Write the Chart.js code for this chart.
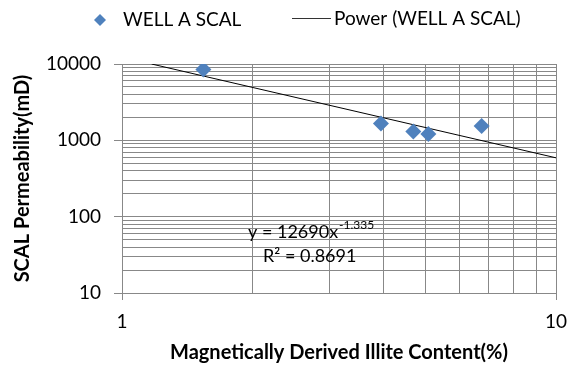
<!DOCTYPE html>
<html><head><meta charset="utf-8">
<script src="https://cdn.jsdelivr.net/npm/chart.js@4.4.1/dist/chart.umd.min.js"></script>
<style>html,body{margin:0;padding:0;background:#fff}#wrap{width:574px;height:371px}</style>
</head><body><div id="wrap"><canvas id="c" width="574" height="371"></canvas></div>
<script>
// ---- data ----
const seriesName = 'WELL A SCAL';
const trendName = 'Power (WELL A SCAL)';
const illiteContent = [1.54, 3.95, 4.69, 5.08, 6.74];
const permeability = [8500, 1660, 1310, 1210, 1540];
const trendX = [1.17, 10];
const trendY = [10000, 590];
const xTickValues = [1, 2, 3, 4, 5, 6, 7, 8, 9, 10];
const xTickLabels = [1, 10];
const yTickValues = [10, 20, 30, 40, 50, 60, 70, 80, 90,
  100, 200, 300, 400, 500, 600, 700, 800, 900,
  1000, 2000, 3000, 4000, 5000, 6000, 7000, 8000, 9000, 10000];
const yTickLabels = [10, 100, 1000, 10000];
const xTitle = 'Magnetically Derived Illite Content(%)';
const yTitle = 'SCAL Permeability(mD)';
const eqMain = 'y = 12690x';
const eqExp = '-1.335';
const eqR2 = 'R\u00B2 = 0.8691';

const FONT = 'Lato, "Open Sans", sans-serif';
const GRID = '#888888';
const BLUE = '#4F81BD';

const overlay = {
  id: 'overlay',
  afterDraw(chart) {
    const ctx = chart.ctx;
    ctx.save();
    // legend
    ctx.fillStyle = BLUE;
    ctx.beginPath();
    const dx = 100, dy = 20, r = 6;
    ctx.moveTo(dx, dy - r); ctx.lineTo(dx + r, dy); ctx.lineTo(dx, dy + r); ctx.lineTo(dx - r, dy); ctx.closePath();
    ctx.fill();
    ctx.fillStyle = '#000';
    ctx.font = '19px ' + FONT;
    ctx.textBaseline = 'middle';
    ctx.textAlign = 'left';
    ctx.fillText(seriesName, 123, 20);
    ctx.strokeStyle = '#333';
    ctx.lineWidth = 1;
    ctx.beginPath(); ctx.moveTo(292, 18.5); ctx.lineTo(331, 18.5); ctx.stroke();
    ctx.fillText(trendName, 334, 19);
    // trendline equation
    ctx.font = '18px ' + FONT;
    ctx.fillText(eqMain, 248, 232);
    const w = ctx.measureText(eqMain).width;
    ctx.font = '12px ' + FONT;
    ctx.fillText(eqExp, 248 + w + 1, 225);
    ctx.font = '18px ' + FONT;
    ctx.fillText(eqR2, 263, 256);
    ctx.restore();
  }
};

const majorTickColor = (list) => (c) => (c.tick && list.includes(c.tick.value)) ? GRID : 'rgba(0,0,0,0)';

new Chart(document.getElementById('c'), {
  data: {
    datasets: [
      {
        type: 'scatter',
        label: seriesName,
        data: illiteContent.map((x, i) => ({ x: x, y: permeability[i] })),
        pointStyle: 'rectRot',
        pointRadius: 8,
        backgroundColor: BLUE,
        borderColor: BLUE,
        borderWidth: 0,
        order: 1
      },
      {
        type: 'line',
        label: trendName,
        data: trendX.map((x, i) => ({ x: x, y: trendY[i] })),
        borderColor: '#000',
        borderWidth: 1,
        pointRadius: 0,
        fill: false,
        order: 2
      }
    ]
  },
  options: {
    responsive: false,
    animation: false,
    devicePixelRatio: 1,
    layout: { padding: { top: 64, right: 18, bottom: 0, left: 0 } },
    plugins: { legend: { display: false }, tooltip: { enabled: false } },
    scales: {
      x: {
        type: 'logarithmic',
        min: 1, max: 10,
        afterBuildTicks: (s) => { s.ticks = xTickValues.map(v => ({ value: v, major: xTickLabels.includes(v) })); },
        afterFit: (s) => { s.height = 78; s.paddingLeft = 0; s.paddingRight = 0; },
        ticks: {
          autoSkip: false, maxRotation: 0,
          callback: (v) => xTickLabels.includes(v) ? String(v) : '',
          font: { family: FONT, size: 19 }, color: '#000', padding: 10
        },
        grid: { color: GRID, lineWidth: 1, tickLength: 7, tickColor: majorTickColor(xTickLabels) },
        border: { color: GRID },
        title: { display: true, text: xTitle, font: { family: FONT, size: 20, weight: 'bold' }, color: '#000', padding: { top: 0, bottom: 6 } }
      },
      y: {
        type: 'logarithmic',
        min: 10, max: 10000,
        afterBuildTicks: (s) => { s.ticks = yTickValues.map(v => ({ value: v, major: yTickLabels.includes(v) })); },
        afterFit: (s) => { s.width = 122; s.paddingTop = 0; s.paddingBottom = 0; },
        ticks: {
          autoSkip: false,
          callback: (v) => yTickLabels.includes(v) ? String(v) : '',
          font: { family: FONT, size: 19 }, color: '#000', padding: 13
        },
        grid: { color: GRID, lineWidth: 1, tickLength: 8, tickColor: majorTickColor(yTickLabels) },
        border: { color: GRID },
        title: { display: true, text: yTitle, font: { family: FONT, size: 20, weight: 'bold' }, color: '#000', padding: { top: 11, bottom: 0 } }
      }
    }
  },
  plugins: [overlay]
});
</script>
</body></html>
